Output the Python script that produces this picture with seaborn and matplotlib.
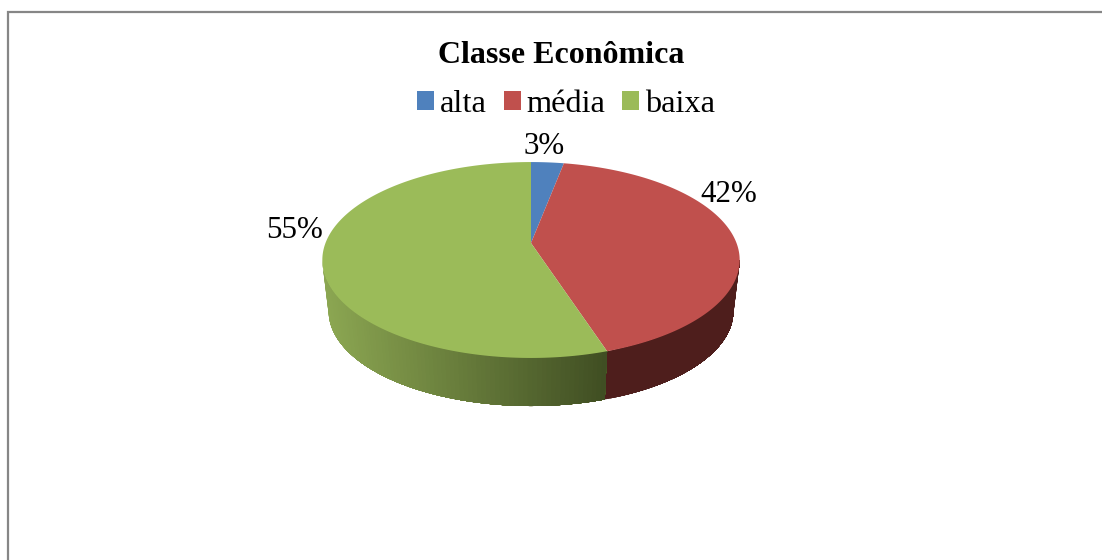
import numpy as np
import matplotlib
matplotlib.use("Agg")
import matplotlib.pyplot as plt
from matplotlib.patches import Patch
import seaborn as sns

categories = ["alta", "média", "baixa"]
values = [3, 42, 55]
top_colors = ["#4f81bd", "#c0504d", "#9bbb59"]
rim_left = ["#2c4a6e", "#4e1e1c", "#8ca752"]
rim_right = ["#2c4a6e", "#4e1e1c", "#3f4d22"]

sns.set_theme(style="white")
plt.rcParams["font.family"] = ["Liberation Serif", "DejaVu Serif"]

# perspective of the tilted disc, in pixels
CX, CY = 531, 243
A, B, K = 205.5, 95, 0.1736
BOTTOM_Y, BOTTOM_SCALE = 294.5, 0.97


def project(theta, cy=CY, scale=1.0):
    """Map angles on the unit circle to the tilted disc"""
    t = np.radians(theta)
    den = 1 + K * np.sin(t)
    return CX + scale * A * np.cos(t) / den, cy - scale * B * np.sin(t) / den


fig = plt.figure(figsize=(11.02, 5.6), dpi=100)
ax = fig.add_axes([0, 0, 1, 1])
palette = sns.color_palette(top_colors)

wedges, _ = ax.pie(values, colors=palette, startangle=90, counterclock=False)
angles = [(w.theta1, w.theta2) for w in wedges]
for w in wedges:
    w.remove()

ax.set_aspect("auto")
ax.set_xlim(0, 1102)
ax.set_ylim(560, 0)
ax.axis("off")

# side wall, only the front part of the disc shows
vis_start = -180 + np.degrees(np.arcsin(K))
vis_end = -np.degrees(np.arcsin(K))
x_min = project(np.array([vis_start]))[0][0]
x_max = project(np.array([angles[1][0]]))[0][0]

for (t1, t2), c1, c2 in zip(angles, rim_left, rim_right):
    lo, hi = max(t1, vis_start), min(t2, vis_end)
    if lo >= hi:
        continue
    c1, c2 = np.array(matplotlib.colors.to_rgb(c1)), np.array(matplotlib.colors.to_rgb(c2))
    steps = np.linspace(lo, hi, 90)
    # each strip runs on to the end of the wall so no seams show
    for a in steps[:-1]:
        seg = np.linspace(a, hi, 60)
        xt, yt = project(seg)
        xb, yb = project(seg, BOTTOM_Y, BOTTOM_SCALE)
        frac = np.clip((xt[0] - x_min) / (x_max - x_min), 0, 1)
        col = c1 + (c2 - c1) * frac
        ax.fill(np.r_[xt, xb[::-1]], np.r_[yt, yb[::-1]], color=col, lw=0)

# top face
for (t1, t2), col in zip(angles, palette):
    xs, ys = project(np.linspace(t1, t2, 200))
    ax.fill(np.r_[CX, xs], np.r_[CY, ys], color=col, lw=0)

# frame around the chart
ax.plot([8, 8, 1102], [560, 12, 12], color="#868686", lw=1.6, solid_joinstyle="miter")

ax.text(561.5, 55.5, "Classe Econômica", ha="center", va="center",
        fontsize=23, fontweight="bold", color="black")

label_pos = [(544, 146), (728.5, 195), (295, 231)]
for v, (x, y) in zip(values, label_pos):
    ax.text(x, y, f"{v}%", ha="center", va="center", fontsize=22.3, color="black")

handles = [Patch(facecolor=c, edgecolor="none", label=n) for c, n in zip(palette, categories)]
ax.legend(handles=handles, ncol=3, loc="center", bbox_to_anchor=(566, 104.5),
          bbox_transform=ax.transData, frameon=False, fontsize=23.3,
          handlelength=0.53, handleheight=0.53, handletextpad=0.18,
          columnspacing=0.52, labelcolor="black", borderpad=0, borderaxespad=0)

fig.savefig("out.png", dpi=100)
